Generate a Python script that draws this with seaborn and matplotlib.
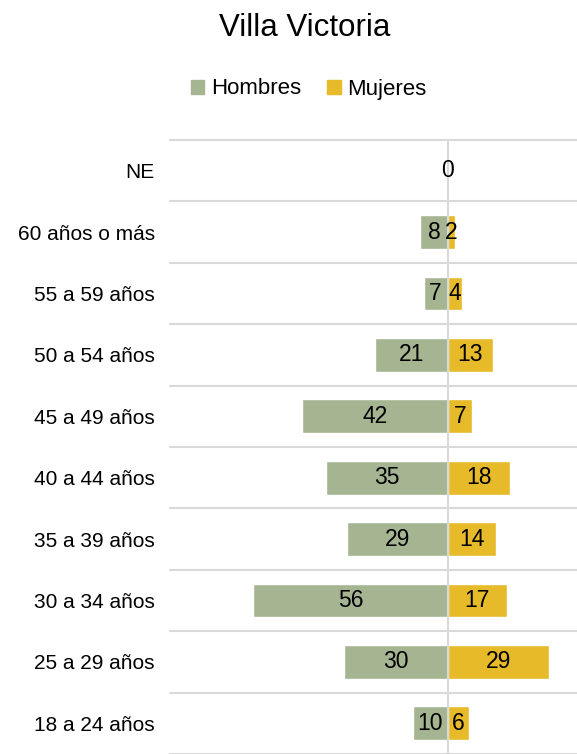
import matplotlib
matplotlib.use("Agg")
import matplotlib.pyplot as plt
import seaborn as sns
import pandas as pd
from matplotlib.patches import Patch

categories = ["NE", "60 años o más", "55 a 59 años", "50 a 54 años", "45 a 49 años",
              "40 a 44 años", "35 a 39 años", "30 a 34 años", "25 a 29 años", "18 a 24 años"]
hombres = [0, 8, 7, 21, 42, 35, 29, 56, 30, 10]
mujeres = [0, 2, 4, 13, 7, 18, 14, 17, 29, 6]

c_h = "#A5B592"
c_m = "#E6BA28"

sns.set_theme(style="white")
plt.rcParams['font.family'] = ['Liberation Sans', 'DejaVu Sans']
plt.rcParams['text.color'] = 'black'
plt.rcParams['ytick.color'] = 'black'

fig = plt.figure(figsize=(5.77, 7.54), dpi=100)
ax = fig.add_axes([170/577, 0.0, 1 - 170/577, 1 - 140/754])

df = pd.DataFrame({"cat": categories, "Hombres": [-v for v in hombres], "Mujeres": mujeres})
sns.barplot(data=df, x="Hombres", y="cat", color=c_h, width=0.55, ax=ax, orient="h",
            saturation=1, order=categories)
sns.barplot(data=df, x="Mujeres", y="cat", color=c_m, width=0.55, ax=ax, orient="h",
            saturation=1, order=categories)

ax.set_xlim(-80, 37.2)
ax.set_ylim(9.5, -0.5)
for k in range(11):
    ax.axhline(k - 0.5, color="#D9D9D9", lw=1.5, zorder=0, clip_on=False)
ax.axvline(0, color="#D9D9D9", lw=1.5, zorder=3)

cont_h = ax.containers[0]
cont_m = ax.containers[1]
lab_h = [str(v) for v in hombres]
lab_m = ["" if (v == 0 and h == 0) else str(v) for v, h in zip(mujeres, hombres)]
ax.bar_label(cont_h, labels=lab_h, label_type="center", fontsize=16.5, color="black", zorder=5)
ax.bar_label(cont_m, labels=lab_m, label_type="center", fontsize=16.5, color="black", zorder=5)

ax.set_xlabel("")
ax.set_ylabel("")
ax.set_xticks([])
ax.tick_params(axis="y", length=0, pad=11, labelsize=15, labelcolor="black")
for s in ax.spines.values():
    s.set_visible(False)

fig.text(0.528, 1 - 28/754, "Villa Victoria", ha="center", va="center", fontsize=22.5,
         color="black")
handles = [Patch(color=c_h, label="Hombres"), Patch(color=c_m, label="Mujeres")]
fig.legend(handles=handles, loc="center", bbox_to_anchor=(0.535, 1 - 89/754), ncol=2,
           frameon=False, fontsize=16, handlelength=0.6, handleheight=0.6,
           handletextpad=0.3, columnspacing=1.2, labelcolor="black")

fig.savefig("out.png", dpi=100)
